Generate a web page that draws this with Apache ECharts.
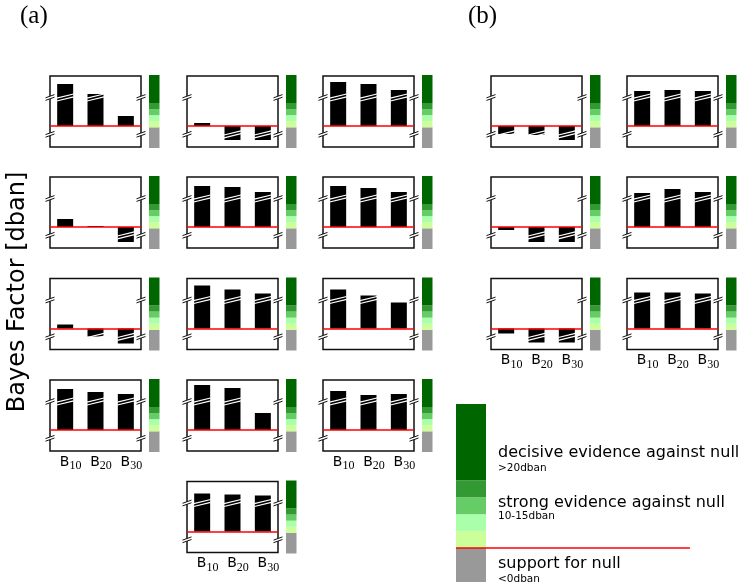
<!DOCTYPE html>
<html>
<head>
<meta charset="utf-8">
<script src="https://cdn.jsdelivr.net/npm/echarts@6/dist/echarts.min.js"></script>
<style>
  html, body { margin: 0; padding: 0; background: #fff; }
  #chart { width: 747px; height: 588px; }
</style>
</head>
<body>
<div id="chart"></div>
<script>
// Bayes factors (display units) for the three lags in every small panel
const categories = ['B10', 'B20', 'B30'];

// panel (a)
const a_r1c1 = [42, 32, 10];
const a_r1c2 = [3, -14, -14];
const a_r1c3 = [44, 42, 36];
const a_r2c1 = [8, 1, -15];
const a_r2c2 = [41, 40, 35];
const a_r2c3 = [41, 39, 35];
const a_r3c1 = [4, -8, -15];
const a_r3c2 = [43, 39, 35];
const a_r3c3 = [39, 33, 26];
const a_r4c1 = [41, 38, 36];
const a_r4c2 = [45, 42, 17];
const a_r4c3 = [39, 35, 36];
const a_r5c2 = [38, 37, 36];

// panel (b)
const b_r1c1 = [-8, -9, -14];
const b_r1c2 = [35, 36, 35];
const b_r2c1 = [-3, -15, -15];
const b_r2c2 = [34, 38, 35];
const b_r3c1 = [-5, -14, -14];
const b_r3c2 = [36, 36, 35];

// axis breaks of the small panels
const BREAK_HI = 28.5;
const BREAK_LO = -8.3;

// evidence colour scale: below 0, then 5-dban steps, then the open top band
const bandColors = ['#999999', '#ccff99', '#aaffaa', '#66cc66', '#339933', '#006600'];
const bandSteps = [5, 5, 5, 5];

const legendTexts = [
  { text: 'decisive evidence against null', size: 16, y: 453 },
  { text: '>20dban', size: 10.5, y: 468 },
  { text: 'strong evidence against null', size: 16, y: 503 },
  { text: '10-15dban', size: 10.5, y: 516 },
  { text: 'support for null', size: 16, y: 564 },
  { text: '<0dban', size: 10.5, y: 579 }
];

// layout of the small panels
const colA = [50, 187, 323];
const colB = [491, 627];
const rowTop = [76, 177, 278.5, 380, 481.5];
const PW = 91, PH = 71;
const Y_MIN = -21, Y_MAX = 50;

const panels = [
  { d: a_r1c1, x: colA[0], y: rowTop[0] },
  { d: a_r1c2, x: colA[1], y: rowTop[0] },
  { d: a_r1c3, x: colA[2], y: rowTop[0] },
  { d: a_r2c1, x: colA[0], y: rowTop[1] },
  { d: a_r2c2, x: colA[1], y: rowTop[1] },
  { d: a_r2c3, x: colA[2], y: rowTop[1] },
  { d: a_r3c1, x: colA[0], y: rowTop[2] },
  { d: a_r3c2, x: colA[1], y: rowTop[2] },
  { d: a_r3c3, x: colA[2], y: rowTop[2] },
  { d: a_r4c1, x: colA[0], y: rowTop[3], lab: true },
  { d: a_r4c2, x: colA[1], y: rowTop[3] },
  { d: a_r4c3, x: colA[2], y: rowTop[3], lab: true },
  { d: a_r5c2, x: colA[1], y: rowTop[4], lab: true },
  { d: b_r1c1, x: colB[0], y: rowTop[0] },
  { d: b_r1c2, x: colB[1], y: rowTop[0] },
  { d: b_r2c1, x: colB[0], y: rowTop[1] },
  { d: b_r2c2, x: colB[1], y: rowTop[1] },
  { d: b_r3c1, x: colB[0], y: rowTop[2], lab: true },
  { d: b_r3c2, x: colB[1], y: rowTop[2], lab: true }
];

const grid = [], xAxis = [], yAxis = [], series = [];

// white double stroke across a bar that runs past an axis break
function renderBarBreak(params, api) {
  const v = api.value(1);
  let level = null;
  if (v >= BREAK_HI - 1) level = BREAK_HI;
  else if (v <= BREAK_LO + 0.5) level = BREAK_LO;
  if (level === null) return null;
  const p = api.coord([api.value(0), level]);
  const hw = 8.5, rise = 2.1;
  return {
    type: 'group',
    children: [-1.4, 1.4].map(off => ({
      type: 'line',
      shape: { x1: p[0] - hw, y1: p[1] + rise + off, x2: p[0] + hw, y2: p[1] - rise + off },
      style: { stroke: '#fff', lineWidth: 1.2 }
    }))
  };
}

// "//" break marks on both side edges of the frame
function renderEdgeBreak(params, api) {
  const y = api.coord([0, api.value(1)])[1];
  const cs = params.coordSys;
  const children = [];
  [cs.x, cs.x + cs.width].forEach(ex => {
    const hw = 4.5, rise = 1.6, gap = 1.3;
    children.push({
      type: 'polygon',
      shape: { points: [[ex - hw, y + rise - gap], [ex + hw, y - rise - gap], [ex + hw, y - rise + gap], [ex - hw, y + rise + gap]] },
      style: { fill: '#fff' }
    });
    [-gap, gap].forEach(off => children.push({
      type: 'line',
      shape: { x1: ex - hw, y1: y + rise + off, x2: ex + hw, y2: y - rise + off },
      style: { stroke: '#111', lineWidth: 1 }
    }));
  });
  return { type: 'group', children };
}

// stacked colour scale in its own grid
function addColorBar(left, top, width, height, yMin, yMax) {
  const gi = grid.length;
  grid.push({ left, top, width, height, show: false });
  xAxis.push({ type: 'category', gridIndex: gi, data: [''], show: false });
  yAxis.push({ type: 'value', gridIndex: gi, min: yMin, max: yMax, show: false, splitLine: { show: false } });
  const used = bandSteps.reduce((s, v) => s + v, 0);
  const vals = [yMin].concat(bandSteps, [yMax - used]);
  vals.forEach((v, k) => {
    series.push({
      type: 'bar', xAxisIndex: gi, yAxisIndex: gi, stack: 'scale' + gi,
      barWidth: '100%', data: [v], silent: true,
      itemStyle: { color: bandColors[k] }
    });
  });
  return gi;
}

panels.forEach(p => {
  const gi = grid.length;
  grid.push({
    left: p.x, top: p.y, width: PW, height: PH, show: true,
    borderColor: '#111', borderWidth: 1.5, backgroundColor: 'transparent'
  });
  xAxis.push({
    type: 'category', gridIndex: gi, data: categories,
    axisLine: { show: false }, axisTick: { show: false }, splitLine: { show: false },
    axisLabel: {
      show: !!p.lab, interval: 0, margin: 4, padding: [0, 0, 0, 11],
      formatter: v => '{b|B}{s|' + v.slice(1) + '}',
      rich: {
        b: { fontFamily: 'DejaVu Sans', fontSize: 14, color: '#000', lineHeight: 17, verticalAlign: 'top' },
        s: { fontFamily: 'Liberation Serif', fontSize: 12, color: '#000', lineHeight: 17, verticalAlign: 'bottom' }
      }
    }
  });
  yAxis.push({ type: 'value', gridIndex: gi, min: Y_MIN, max: Y_MAX, show: false, splitLine: { show: false } });
  series.push({
    type: 'bar', xAxisIndex: gi, yAxisIndex: gi, data: p.d, barWidth: 16, silent: true,
    itemStyle: { color: '#000' },
    markLine: {
      silent: true, symbol: 'none', label: { show: false },
      lineStyle: { color: '#ff0000', width: 1.5, type: 'solid' },
      data: [{ yAxis: 0 }]
    }
  });
  series.push({
    type: 'custom', xAxisIndex: gi, yAxisIndex: gi, silent: true, z: 3,
    data: p.d.map((v, k) => [k, v]), encode: { x: 0, y: 1 },
    renderItem: renderBarBreak
  });
  series.push({
    type: 'custom', xAxisIndex: gi, yAxisIndex: gi, silent: true, z: 4,
    data: [[0, BREAK_HI], [0, BREAK_LO]], encode: { x: 0, y: 1 },
    renderItem: renderEdgeBreak
  });
  addColorBar(p.x + 99, p.y - 1, 10.5, PH + 2, -17, 43);
});

// legend colour scale
const LG_MIN = -10, LG_MAX = 42.5;
addColorBar(456, 404, 30, 178, LG_MIN, LG_MAX);

// zero line of the legend scale, running under the labels
(function () {
  const gi = grid.length;
  grid.push({ left: 456, top: 404, width: 234, height: 178, show: false });
  xAxis.push({ type: 'value', gridIndex: gi, min: 0, max: 1, show: false, splitLine: { show: false } });
  yAxis.push({ type: 'value', gridIndex: gi, min: LG_MIN, max: LG_MAX, show: false, splitLine: { show: false } });
  series.push({
    type: 'line', xAxisIndex: gi, yAxisIndex: gi, data: [[0, 0], [1, 0]],
    symbol: 'none', silent: true, z: 5,
    lineStyle: { color: '#ff0000', width: 1.5 }
  });
})();

const graphic = [
  { type: 'text', left: 20, top: 4, style: { text: '(a)', font: '25px "Liberation Serif"', fill: '#000' } },
  { type: 'text', left: 468, top: 4, style: { text: '(b)', font: '25px "Liberation Serif"', fill: '#000' } },
  {
    type: 'text', x: 18, y: 292, rotation: Math.PI / 2,
    style: { text: 'Bayes Factor [dban]', font: '24px "DejaVu Sans"', fill: '#000', align: 'center', verticalAlign: 'middle' }
  }
].concat(legendTexts.map(t => ({
  type: 'text', x: 498, y: t.y,
  style: { text: t.text, font: t.size + 'px "DejaVu Sans"', fill: '#000', align: 'left', verticalAlign: 'middle' }
})));

const chart = echarts.init(document.getElementById('chart'), null, { renderer: 'canvas' });
chart.setOption({
  animation: false,
  backgroundColor: '#fff',
  grid, xAxis, yAxis, series, graphic
});
</script>
</body>
</html>
